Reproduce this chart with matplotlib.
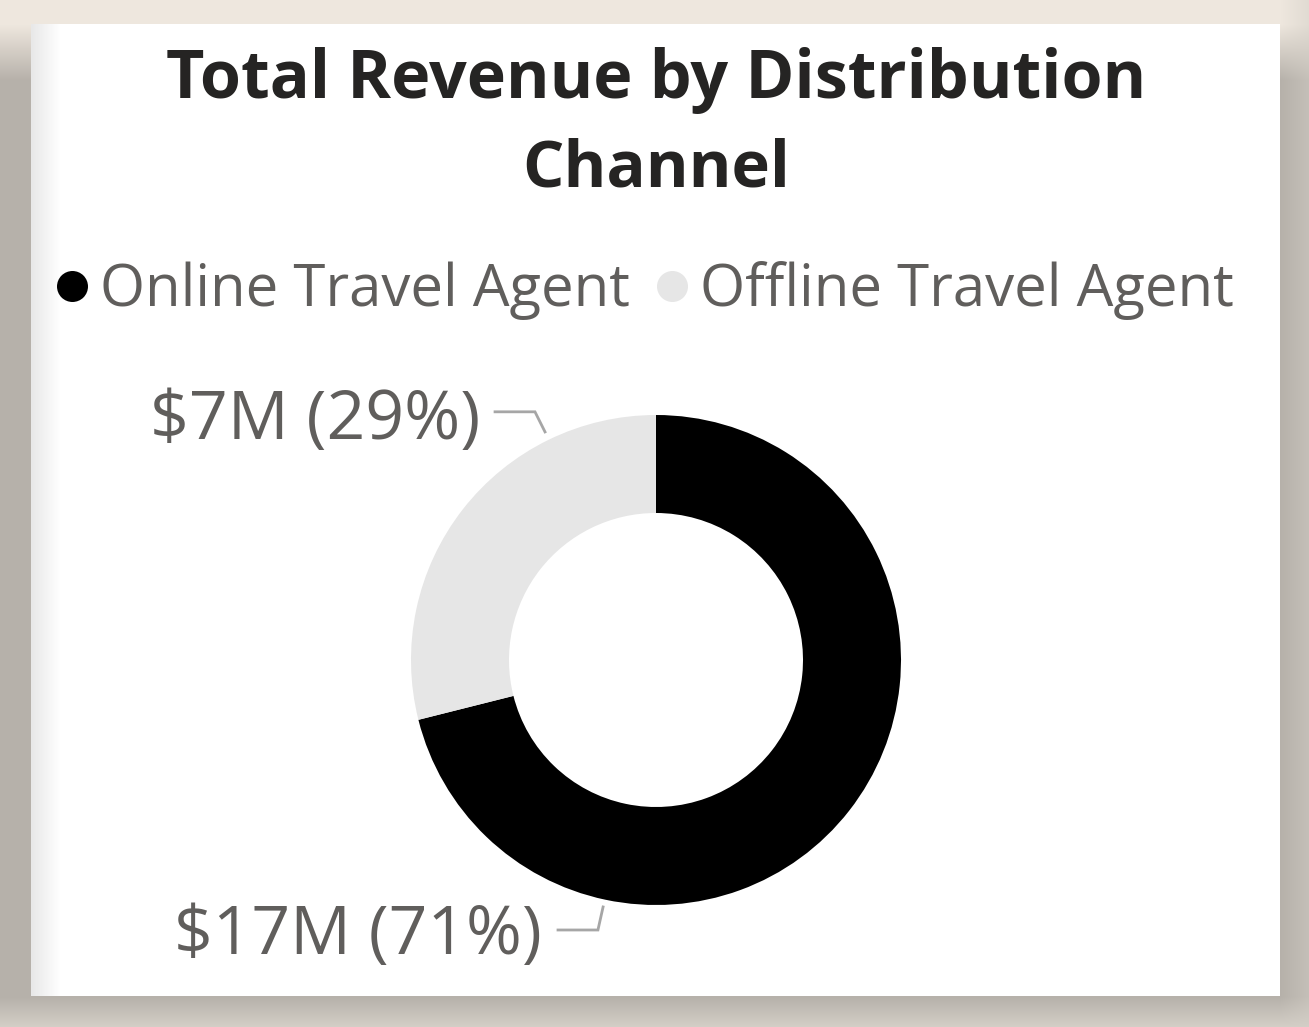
import numpy as np
import matplotlib
matplotlib.use("Agg")
import matplotlib.pyplot as plt
from matplotlib.patches import Rectangle

# ---- data ----
title = "Total Revenue by Distribution\nChannel"
categories = ["Online Travel Agent", "Offline Travel Agent"]
revenue_musd = [17.2, 7.0]
colors = ["#000000", "#E6E6E6"]

W, H = 1309, 1027
fig = plt.figure(figsize=(W / 100, H / 100), dpi=100)

# ---- background (page + drop shadow) ----
bg = fig.add_axes([0, 0, 1, 1])
bg.set_xlim(0, W)
bg.set_ylim(H, 0)
bg.axis("off")
gray = np.array([182, 177, 170]) / 255
beige = np.array([238, 231, 222]) / 255
light = np.array([212, 207, 199]) / 255
img = np.ones((H, W, 3)) * gray
for y in range(H):
    if y < 24:
        img[y, :] = beige
    elif y < 80:
        t = (y - 24) / 56
        img[y, :] = beige * (1 - t) + gray * t
    elif y > 996:
        t = (y - 996) / 31
        img[y, :] = gray * (1 - t) + light * t
xs = np.arange(W)
rt = np.clip((xs - 1280) / 29, 0, 1)[None, :, None]
img = img * (1 - 0.5 * rt) + light * 0.5 * rt
bg.imshow(img, extent=[0, W, H, 0], aspect="auto", zorder=0)
bg.add_patch(Rectangle((31, 24), 1249, 972, facecolor="white", edgecolor="none", zorder=1))
grad = np.linspace(0.91, 1.0, 30)[None, :, None] * np.ones((1, 1, 3))
bg.imshow(grad, extent=[31, 61, 996, 24], aspect="auto", zorder=2)
bg.set_xlim(0, W)
bg.set_ylim(H, 0)

renderer = fig.canvas.get_renderer()


def fit_text(x, y, s, target_w, **kw):
    t = bg.text(x, y, s, fontsize=40, zorder=5, **kw)
    w = t.get_window_extent(renderer).width
    t.set_fontsize(40 * target_w / w)
    return t


# ---- title ----
lines = title.split("\n")
fit_text(656, 81, lines[0], 980, ha="center", va="center",
         family="Open Sans", weight="bold", color="#252423")
fit_text(656, 170, lines[1], 268, ha="center", va="center",
         family="Open Sans", weight="bold", color="#252423")

# ---- legend ----
txt_color = "#605E5C"
leg_x = [(72, 100, 528), (672, 700, 533)]
for (mx, tx, tw), cat, col in zip(leg_x, categories, colors):
    bg.scatter([mx], [286], s=(31 * 0.72) ** 2, color=col, zorder=5, linewidths=0)
    fit_text(tx, 291, cat, tw, ha="left", va="center",
             family="Open Sans", color=txt_color)

# ---- donut ----
cx, cy, R = 656, 660, 245
ax = fig.add_axes([(cx - R) / W, (H - cy - R) / H, 2 * R / W, 2 * R / H])
ax.pie(revenue_musd, colors=colors, startangle=90, counterclock=False,
       radius=1, wedgeprops=dict(width=0.4, linewidth=0))
ax.set_xlim(-1, 1)
ax.set_ylim(-1, 1)
ax.axis("off")

total = sum(revenue_musd)
labels = [f"${v:.0f}M ({100 * v / total:.0f}%)" for v in revenue_musd]

# leader lines (pie units) and label anchors
lc = "#A6A6A6"
ax.plot([-0.657, -0.494, -0.453], [1.013, 1.013, 0.931], color=lc, lw=2,
        clip_on=False, solid_joinstyle="miter")
ax.plot([-0.400, -0.237, -0.216], [-1.102, -1.102, -1.008], color=lc, lw=2,
        clip_on=False, solid_joinstyle="miter")

fit_text(480, 421, labels[1], 330, ha="right", va="center",
         family="Open Sans", color=txt_color)
fit_text(542, 936, labels[0], 367, ha="right", va="center",
         family="Open Sans", color=txt_color)

fig.savefig("out.png", dpi=100)
